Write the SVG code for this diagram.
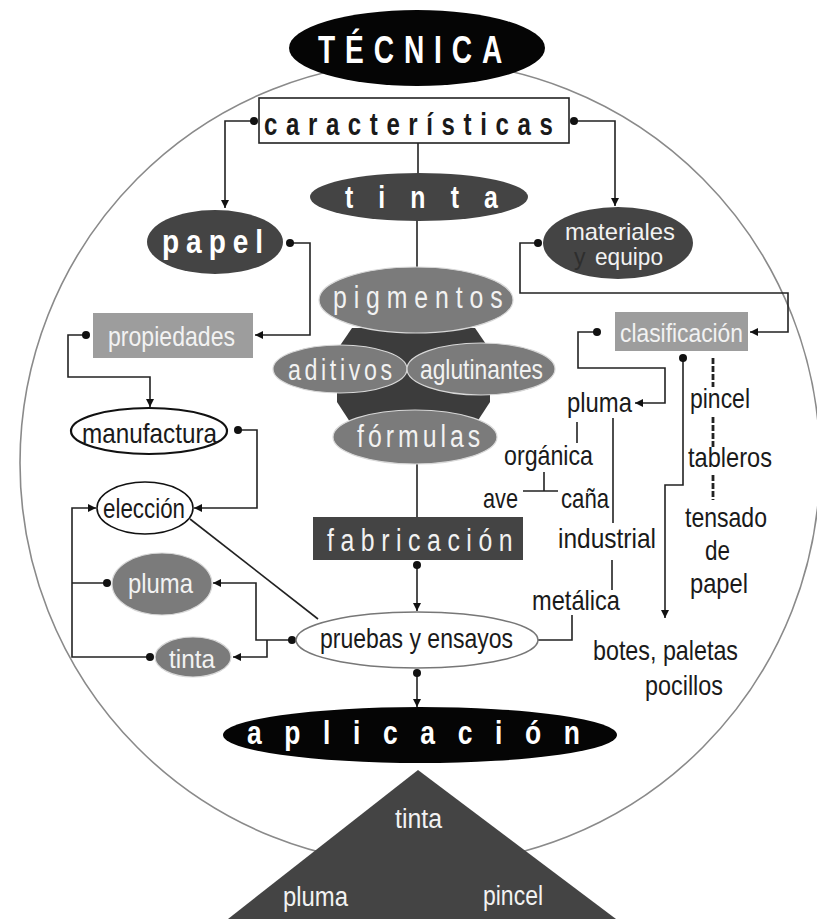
<svg xmlns="http://www.w3.org/2000/svg" width="817" height="919" viewBox="0 0 817 919">
<style>
.t{font-family:"Liberation Sans","DejaVu Sans",sans-serif}
.b{font-weight:bold}
.w{fill:#ffffff}
.lt{fill:#f2f2f2}
.k{fill:#1a1a1a}
.lab{font-size:28px;fill:#1a1a1a}
.ln{fill:none;stroke:#222;stroke-width:1.6}
.dash{fill:none;stroke:#222;stroke-width:2.8;stroke-dasharray:6 2}
.dark{fill:#444444}
.mid{fill:#7b7b7b;stroke:#d8d8d8;stroke-width:1.2}
.lite{fill:#9d9d9d}
</style>
<defs>
<marker id="arr" viewBox="0 0 10 10" refX="10" refY="5" markerWidth="9" markerHeight="8" orient="auto" markerUnits="userSpaceOnUse"><path d="M0,0 L10,5 L0,10 z" fill="#111"/></marker>
<marker id="dot" viewBox="0 0 10 10" refX="5" refY="5" markerWidth="8" markerHeight="8" markerUnits="userSpaceOnUse"><circle cx="5" cy="5" r="5" fill="#111"/></marker>
</defs>
<rect width="817" height="919" fill="#ffffff"/>
<ellipse id="border" cx="420" cy="463" rx="400" ry="402" fill="none" stroke="#8a8a8a" stroke-width="1.6"/>
<g id="connectors">
<path class="ln" d="M254,121 H225 V208" marker-start="url(#dot)" marker-end="url(#arr)"/>
<path class="ln" d="M574,121 H615 V206" marker-start="url(#dot)" marker-end="url(#arr)"/>
<path class="ln" d="M418,143 V174"/>
<path class="ln" d="M417,220 V268"/>
<path class="ln" d="M290,243 H310 V335 H255" marker-start="url(#dot)" marker-end="url(#arr)"/>
<path class="ln" d="M86,335 H68 V377 H150 V407" marker-start="url(#dot)" marker-end="url(#arr)"/>
<path class="ln" d="M238,430 H257 V508 H194" marker-start="url(#dot)" marker-end="url(#arr)"/>
<path class="ln" d="M190,519 L318,619"/>
<path class="ln" d="M417,464 V517"/>
<path class="ln" d="M417,565 V611" marker-start="url(#dot)" marker-end="url(#arr)"/>
<path class="ln" d="M417,673 V707" marker-start="url(#dot)" marker-end="url(#arr)"/>
<path class="ln" d="M292,640 H256 V583 H213" marker-start="url(#dot)" marker-end="url(#arr)"/>
<path class="ln" d="M267,640 V657 H233" marker-end="url(#arr)"/>
<path class="ln" d="M150,657 H72 V508 H96" marker-start="url(#dot)" marker-end="url(#arr)"/>
<path class="ln" d="M107,583 H72" marker-start="url(#dot)"/>
<path class="ln" d="M538,243 H520 V293 H788 V332 H750" marker-start="url(#dot)" marker-end="url(#arr)"/>
<path class="ln" d="M597,332 H578 V368 H665 V403 H635" marker-start="url(#dot)" marker-end="url(#arr)"/>
<path class="ln" d="M683,358 V485 H665 V618" marker-start="url(#dot)" marker-end="url(#arr)"/>
<path class="dash" d="M713,358 V387 M713,417 V447 M713,475 V500"/>
<path class="ln" d="M577,422 V443 M544,472 V491 M523,491 H558 M613,418 V523 M612,560 V590 M538,640 H572 V615"/>
</g>
<g id="tecnica">
<ellipse cx="417" cy="48" rx="128" ry="38" fill="#050505"/>
<text class="t b w" transform="translate(318,63) scale(0.72,1)" font-size="39" textLength="256" lengthAdjust="spacing">TÉCNICA</text>
</g>
<g id="caracteristicas">
<rect x="259" y="98" width="310" height="45" fill="#fff" stroke="#222" stroke-width="1.6"/>
<text class="t b k" transform="translate(264,135) scale(0.75,1)" font-size="32" textLength="385" lengthAdjust="spacing">características</text>
</g>
<g id="tinta">
<ellipse class="dark" cx="419" cy="197" rx="109" ry="24"/>
<text class="t b w" transform="translate(345,208) scale(0.8,1)" font-size="31" textLength="191" lengthAdjust="spacing">tinta</text>
</g>
<g id="papel">
<ellipse class="dark" cx="215" cy="242" rx="68" ry="32"/>
<text class="t b w" transform="translate(162,253) scale(0.85,1)" font-size="33" textLength="119" lengthAdjust="spacing">papel</text>
</g>
<g id="materiales">
<ellipse class="dark" cx="618" cy="243" rx="75" ry="36"/>
<text class="t lt" x="565" y="240" font-size="24" textLength="110" lengthAdjust="spacingAndGlyphs">materiales</text>
<text class="t lt" x="574" y="265" font-size="23"><tspan fill="#2e2e2e">y</tspan><tspan x="595" textLength="68" lengthAdjust="spacingAndGlyphs">equipo</tspan></text>
</g>
<g id="nucleo">
<polygon points="352,328 475,328 490,350 490,402 475,425 352,425 337,402 337,350" fill="#3c3c3c"/>
</g>
<g id="pigmentos">
<ellipse class="mid" cx="416" cy="300" rx="97" ry="33"/>
<text class="t lt" transform="translate(333,308) scale(0.8,1)" font-size="31" textLength="212" lengthAdjust="spacing">pigmentos</text>
</g>
<g id="aditivos">
<ellipse class="mid" cx="340" cy="369" rx="67" ry="24"/>
<text class="t lt" transform="translate(288,380) scale(0.8,1)" font-size="29" textLength="130" lengthAdjust="spacing">aditivos</text>
</g>
<g id="aglutinantes">
<ellipse class="mid" cx="481" cy="369" rx="74" ry="26"/>
<text class="t lt" x="420" y="379" font-size="28" textLength="123" lengthAdjust="spacingAndGlyphs">aglutinantes</text>
</g>
<g id="formulas">
<ellipse class="mid" cx="415" cy="437" rx="82" ry="27"/>
<text class="t lt" transform="translate(357,447) scale(0.8,1)" font-size="31" textLength="154" lengthAdjust="spacing">fórmulas</text>
</g>
<g id="fabricacion">
<rect class="dark" x="313" y="517" width="210" height="43"/>
<text class="t lt" transform="translate(327,551) scale(0.8,1)" font-size="31" textLength="232" lengthAdjust="spacing">fabricación</text>
</g>
<g id="pruebas">
<ellipse cx="417" cy="640" rx="121" ry="28" fill="#fff" stroke="#777" stroke-width="1.5"/>
<text class="t k" x="320" y="648" font-size="28" textLength="193" lengthAdjust="spacingAndGlyphs">pruebas y ensayos</text>
</g>
<g id="aplicacion">
<ellipse cx="420" cy="735" rx="197" ry="28" fill="#050505"/>
<text class="t b w" transform="translate(247,744) scale(0.8,1)" font-size="33" textLength="416" lengthAdjust="spacing">aplicación</text>
</g>
<g id="triangulo">
<polygon points="418,770 228,919 616,919" fill="#444444"/>
<text class="t lt" x="395" y="828" font-size="27" textLength="47" lengthAdjust="spacingAndGlyphs">tinta</text>
<text class="t lt" x="283" y="906" font-size="27" textLength="65" lengthAdjust="spacingAndGlyphs">pluma</text>
<text class="t lt" x="483" y="905" font-size="27" textLength="60" lengthAdjust="spacingAndGlyphs">pincel</text>
</g>
<g id="propiedades">
<rect class="lite" x="93" y="313" width="160" height="45"/>
<text class="t lt" x="108" y="346" font-size="28" textLength="127" lengthAdjust="spacingAndGlyphs">propiedades</text>
</g>
<g id="manufactura">
<ellipse cx="149" cy="431" rx="78" ry="23" fill="#fff" stroke="#111" stroke-width="2.2"/>
<text class="t k" x="82" y="443" font-size="28" textLength="135" lengthAdjust="spacingAndGlyphs">manufactura</text>
</g>
<g id="eleccion">
<ellipse cx="145" cy="508" rx="48" ry="26" fill="#fff" stroke="#111" stroke-width="1.6"/>
<text class="t k" x="103" y="518" font-size="28" textLength="82" lengthAdjust="spacingAndGlyphs">elección</text>
</g>
<g id="pluma-izq">
<ellipse class="mid" cx="162" cy="584" rx="50" ry="31"/>
<text class="t lt" x="128" y="593" font-size="28" textLength="65" lengthAdjust="spacingAndGlyphs">pluma</text>
</g>
<g id="tinta-izq">
<ellipse class="mid" cx="193" cy="657" rx="38" ry="20"/>
<text class="t lt" x="169" y="668" font-size="26" textLength="46" lengthAdjust="spacingAndGlyphs">tinta</text>
</g>
<g id="clasificacion">
<rect class="lite" x="615" y="312" width="133" height="39"/>
<text class="t lt" x="620" y="342" font-size="26" textLength="123" lengthAdjust="spacingAndGlyphs">clasificación</text>
</g>
<g id="etiquetas">
<text class="t lab" x="567" y="412" textLength="65" lengthAdjust="spacingAndGlyphs">pluma</text>
<text class="t lab" x="504" y="465" textLength="89" lengthAdjust="spacingAndGlyphs">orgánica</text>
<text class="t lab" x="483" y="508" textLength="35" lengthAdjust="spacingAndGlyphs">ave</text>
<text class="t lab" x="561" y="508" textLength="48" lengthAdjust="spacingAndGlyphs">caña</text>
<text class="t lab" x="558" y="548" textLength="98" lengthAdjust="spacingAndGlyphs">industrial</text>
<text class="t lab" x="532" y="610" textLength="88" lengthAdjust="spacingAndGlyphs">metálica</text>
<text class="t lab" x="690" y="408" textLength="60" lengthAdjust="spacingAndGlyphs">pincel</text>
<text class="t lab" x="688" y="467" textLength="84" lengthAdjust="spacingAndGlyphs">tableros</text>
<text class="t lab" x="685" y="527" textLength="82" lengthAdjust="spacingAndGlyphs">tensado</text>
<text class="t lab" x="705" y="560" textLength="25" lengthAdjust="spacingAndGlyphs">de</text>
<text class="t lab" x="690" y="593" textLength="58" lengthAdjust="spacingAndGlyphs">papel</text>
<text class="t lab" x="593" y="660" textLength="145" lengthAdjust="spacingAndGlyphs">botes, paletas</text>
<text class="t lab" x="645" y="695" textLength="78" lengthAdjust="spacingAndGlyphs">pocillos</text>
</g>
</svg>
